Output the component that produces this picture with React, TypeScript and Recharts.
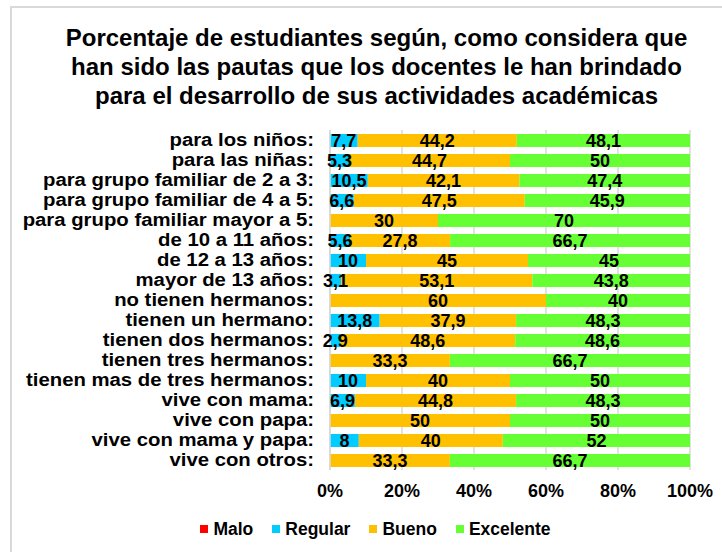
import React from "react";
import { BarChart, Bar, XAxis, YAxis, CartesianGrid, Legend, LabelList } from "recharts";

const FONT = "'Liberation Sans', Arial, sans-serif";

const categories = [
  "para los niños:",
  "para las niñas:",
  "para grupo familiar de 2 a 3:",
  "para grupo familiar de 4 a 5:",
  "para grupo familiar mayor a 5:",
  "de 10 a 11 años:",
  "de 12 a 13 años:",
  "mayor de 13 años:",
  "no tienen hermanos:",
  "tienen un hermano:",
  "tienen dos hermanos:",
  "tienen tres hermanos:",
  "tienen mas de tres hermanos:",
  "vive con mama:",
  "vive con papa:",
  "vive con mama y papa:",
  "vive con otros:",
];

const malo = [0, 0, 0, 0, 0, 0, 0, 0, 0, 0, 0, 0, 0, 0, 0, 0, 0];
const regular = [7.7, 5.3, 10.5, 6.6, 0, 5.6, 10, 3.1, 0, 13.8, 2.9, 0, 10, 6.9, 0, 8, 0];
const bueno = [44.2, 44.7, 42.1, 47.5, 30, 27.8, 45, 53.1, 60, 37.9, 48.6, 33.3, 40, 44.8, 50, 40, 33.3];
const excelente = [48.1, 50, 47.4, 45.9, 70, 66.7, 45, 43.8, 40, 48.3, 48.6, 66.7, 50, 48.3, 50, 52, 66.7];

const xTicks = [0, 0.2, 0.4, 0.6, 0.8, 1];

const series = [
  { key: "malo", name: "Malo", color: "#FF0000" },
  { key: "regular", name: "Regular", color: "#00CCFF" },
  { key: "bueno", name: "Bueno", color: "#FFC000" },
  { key: "excelente", name: "Excelente", color: "#66FF33" },
];

const data = categories.map((name, i) => ({
  name,
  malo: malo[i],
  regular: regular[i],
  bueno: bueno[i],
  excelente: excelente[i],
}));

// category labels in the original are stretched horizontally
const CategoryTick = (props: any) => {
  const { x, y, payload } = props;
  return (
    <g transform={`translate(${x},${y})`}>
      <text transform="scale(1.13,1)" textAnchor="end" dy={6.3} fontSize={18} fontWeight="bold" fill="#000" fontFamily={FONT}>
        {payload.value}
      </text>
    </g>
  );
};

const ValueLabel = (props: any) => {
  const { x, y, width, height, value } = props;
  if (!value) return null;
  return (
    <text
      x={x + width / 2}
      y={y + height / 2 + 6.4}
      textAnchor="middle"
      fontSize={18}
      fontWeight="bold"
      fill="#000"
      fontFamily={FONT}
    >
      {String(value).replace(".", ",")}
    </text>
  );
};

const LegendContent = () => (
  <div
    style={{
      display: "flex",
      justifyContent: "center",
      alignItems: "center",
      height: 20,
      fontFamily: FONT,
      fontSize: 17.5,
      fontWeight: "bold",
      color: "#000",
    }}
  >
    {series.map((s, i) => (
      <div key={s.key} style={{ display: "flex", alignItems: "center", marginLeft: i === 0 ? 0 : 19 }}>
        <span style={{ width: 8, height: 8, background: s.color, marginRight: 5 }} />
        <span>{s.name}</span>
      </div>
    ))}
  </div>
);

export default function App() {
  return (
    <div style={{ position: "relative", width: 722, height: 552, overflow: "hidden", background: "#fff" }}>
      <style>{"body{margin:0}"}</style>
      <div
        style={{
          position: "absolute",
          left: 10,
          top: 6,
          width: 800,
          height: 700,
          border: "2px solid #d9d9d9",
        }}
      />
      <div
        style={{
          position: "absolute",
          left: 0,
          top: 23,
          width: 753,
          textAlign: "center",
          fontFamily: FONT,
          fontWeight: "bold",
          fontSize: 24,
          lineHeight: "29px",
          color: "#000",
        }}
      >
        Porcentaje de estudiantes según, como considera que
        <br />
        han sido las pautas que los docentes le han brindado
        <br />
        para el desarrollo de sus actividades académicas
      </div>
      <div style={{ position: "absolute", left: 0, top: 0 }}>
        <BarChart
          width={722}
          height={552}
          data={data}
          layout="vertical"
          stackOffset="expand"
          barSize={13}
          margin={{ top: 130, right: 32, left: 0, bottom: 32 }}
          style={{ fontFamily: FONT }}
        >
          <CartesianGrid horizontal={false} stroke="#d9d9d9" strokeWidth={1.5} />
          <XAxis
            type="number"
            domain={[0, 1]}
            ticks={xTicks}
            tickFormatter={(v: number) => `${Math.round(v * 100)}%`}
            axisLine={false}
            tickLine={false}
            tickSize={0}
            tickMargin={14}
            height={30}
            tick={{ fontSize: 18, fontWeight: "bold", fill: "#000" }}
          />
          <YAxis
            type="category"
            dataKey="name"
            width={330}
            interval={0}
            axisLine={{ stroke: "#d9d9d9", strokeWidth: 1.5 }}
            tickLine={false}
            tickSize={0}
            tickMargin={16}
            tick={<CategoryTick />}
          />
          <Legend verticalAlign="bottom" content={<LegendContent />} wrapperStyle={{ left: 0, width: 751, top: 519 }} />
          {series.map((s) => (
            <Bar key={s.key} dataKey={s.key} name={s.name} stackId="a" fill={s.color} isAnimationActive={false}>
              <LabelList dataKey={s.key} content={<ValueLabel />} />
            </Bar>
          ))}
        </BarChart>
      </div>
    </div>
  );
}
